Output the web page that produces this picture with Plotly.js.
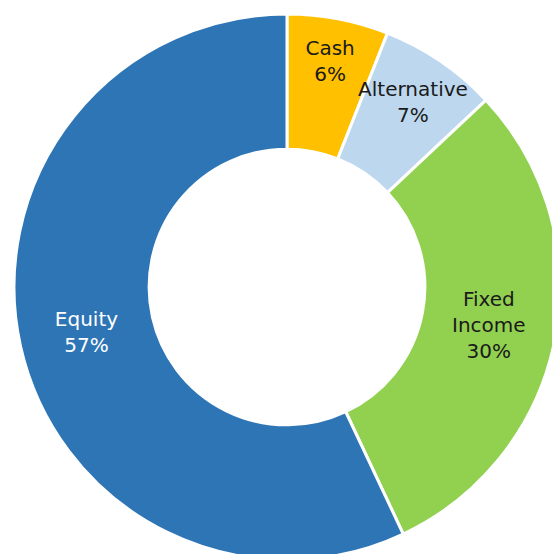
<!DOCTYPE html>
<html>
<head>
<meta charset="utf-8">
<script src="https://cdn.plot.ly/plotly-3.0.1.min.js"></script>
<style>
html,body{margin:0;padding:0;overflow:hidden;background:#fff;width:552px;height:554px;}
#chart{width:574px;height:574px;}
</style>
</head>
<body>
<div id="chart"></div>
<script>
var labels = ["Cash", "Alternative", "Fixed Income", "Equity"];
var displayLabels = ["Cash", "Alternative", "Fixed<br>Income", "Equity"];
var values = [6, 7, 30, 57];
var colors = ["#FFC000", "#BDD7EE", "#92D050", "#2E75B6"];
var textColors = ["#1a1a1a", "#1a1a1a", "#1a1a1a", "#ffffff"];

var trace = {
  type: "pie",
  labels: labels,
  values: values,
  text: displayLabels,
  texttemplate: "%{text}<br>%{value}%",
  textinfo: "text",
  hole: 0.505,
  sort: false,
  direction: "clockwise",
  rotation: 0,
  marker: {colors: colors, line: {color: "#ffffff", width: 3}},
  textposition: "inside",
  insidetextorientation: "horizontal",
  insidetextfont: {family: "'DejaVu Sans', sans-serif", size: 20, color: textColors},
  hoverinfo: "label+percent",
  showlegend: false
};

var layout = {
  width: 574,
  height: 574,
  margin: {l: 14, r: 14, t: 14, b: 14},
  paper_bgcolor: "#ffffff",
  showlegend: false,
  uniformtext: {minsize: 20, mode: "show"}
};

Plotly.newPlot("chart", [trace], layout, {displayModeBar: false, staticPlot: true});
</script>
</body>
</html>
